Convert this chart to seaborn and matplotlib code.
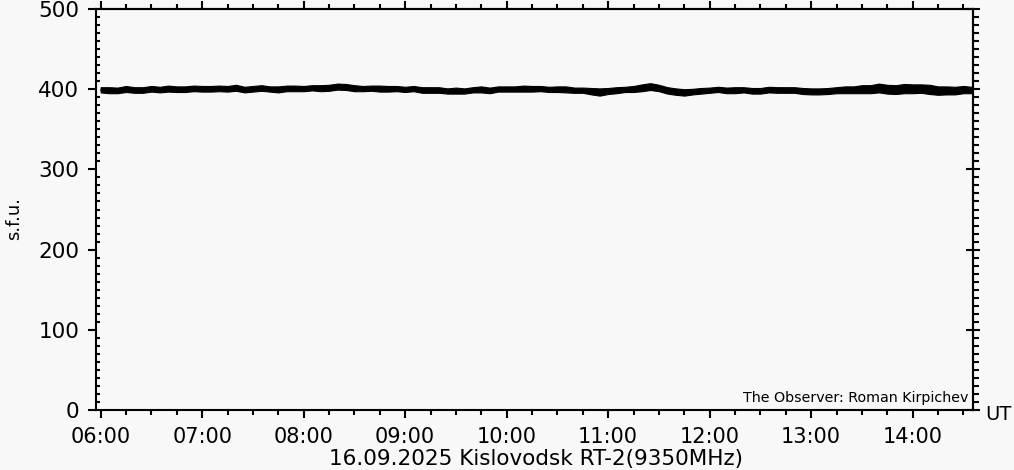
import pandas as pd
import seaborn as sns
import matplotlib.pyplot as plt
import matplotlib.dates as mdates
import matplotlib.ticker as mticker
import numpy as np

# 5-minute samples, 06:00 .. 14:35 UT
times = pd.date_range('2025-09-16 06:00', periods=104, freq='5min')

# centre of the flux trace (s.f.u.)
flux = [399, 398.5, 399, 399.5, 399, 399.5, 400, 399.5, 400, 400.5, 400, 400.5,
        400.5, 401, 400.5, 400.5, 401, 400, 400.5, 401, 400.5, 400, 400.5, 401,
        401, 401.5, 401, 402, 402.5, 402.5, 401.5, 401, 401, 400.5, 401, 400.5,
        400, 400.5, 399.5, 399, 398.5, 398, 398.5, 398, 399, 399.5, 399, 400,
        400.5, 400, 400.5, 401, 400.5, 400, 399.5, 400, 399, 398.5, 397.5, 396.5,
        398, 398.5, 399.5, 400, 401.5, 402.5, 401.5, 399, 397, 396.5, 397.5, 398,
        399, 399.5, 399, 398.5, 399, 398.5, 398, 399, 399.5, 399, 398.5, 398,
        397.5, 397, 398, 398.5, 399, 399.5, 400, 400.5, 401, 400.5, 399.5, 400,
        401, 400.5, 399.5, 399, 398.5, 399, 399.5, 399]

# spread of the noise band above / below the centre (s.f.u.)
noise_up = [3.5, 4, 3, 4.5, 3.5, 3, 4, 3.5, 4.5, 3, 3.5, 4,
            3.5, 3, 4, 3.5, 4.5, 3, 3.5, 4, 3, 3.5, 4, 3.5,
            3, 3.5, 4, 3.5, 4.5, 4, 3.5, 3, 3.5, 4, 3, 3.5,
            3, 3.5, 3, 3.5, 4, 3, 3.5, 3, 3.5, 4, 3, 3.5,
            3, 3.5, 4, 3, 3.5, 3, 4, 3.5, 3, 3.5, 4, 4.5,
            3.5, 4, 3.5, 4, 4.5, 5, 4, 3.5, 4, 3.5, 3, 3.5,
            3, 3.5, 3, 4, 3.5, 3, 3.5, 4, 3, 3.5, 4, 3.5,
            3.5, 4, 3.5, 4, 4.5, 4, 5, 4.5, 6, 5, 5.5, 6.5,
            5, 5.5, 6, 4.5, 5, 4, 4.5, 4]
noise_dn = [3, 3.5, 4, 3, 3.5, 4, 3, 3.5, 3, 4, 3.5, 3,
            3.5, 4, 3, 3.5, 3, 4, 3.5, 3, 3.5, 4, 3, 3.5,
            3.5, 3, 3.5, 4, 3, 3.5, 4, 3.5, 3, 3.5, 4, 3,
            3.5, 3, 4, 3.5, 3, 3.5, 4, 3.5, 3, 3.5, 4, 3,
            3.5, 3, 3.5, 4, 3, 3.5, 3, 4, 3.5, 3, 4, 4.5,
            4, 3.5, 3, 3.5, 4, 3.5, 4, 4.5, 4, 4.5, 4, 3.5,
            3.5, 3, 4, 3.5, 3, 4, 3.5, 3, 4, 3.5, 3, 4,
            4, 3.5, 4, 3.5, 4, 4.5, 5, 5.5, 5, 6, 5.5, 5,
            6, 5, 5.5, 6, 5, 5.5, 4.5, 4]

df = pd.DataFrame({'time': times, 'flux': flux})
upper = np.array(flux) + np.array(noise_up)
lower = np.array(flux) - np.array(noise_dn)

bg = '#f8f8f8'
sns.set_style('ticks', {'axes.facecolor': bg, 'figure.facecolor': bg,
                        'text.color': 'black', 'xtick.color': 'black',
                        'ytick.color': 'black', 'axes.edgecolor': 'black'})
plt.rcParams['font.family'] = ['DejaVu Sans']

fig = plt.figure(figsize=(10.14, 4.70), dpi=100)
ax = fig.add_axes([96 / 1014, 60 / 470, 877 / 1014, 401 / 470])

ax.fill_between(df['time'], lower, upper, color='black', linewidth=0.8, edgecolor='black')
sns.lineplot(data=df, x='time', y='flux', ax=ax, color='black', linewidth=1.0)

ax.set_xlim(pd.Timestamp('2025-09-16 05:57:15'), pd.Timestamp('2025-09-16 14:35:40'))
ax.set_ylim(0, 500)

ax.xaxis.set_major_locator(mdates.HourLocator())
ax.xaxis.set_minor_locator(mdates.MinuteLocator(byminute=[15, 30, 45]))
ax.xaxis.set_major_formatter(mdates.DateFormatter('%H:%M'))
ax.yaxis.set_major_locator(mticker.MultipleLocator(100))
ax.yaxis.set_minor_locator(mticker.MultipleLocator(10))

for s in ax.spines.values():
    s.set_linewidth(1.5)
ax.tick_params(which='major', direction='out', length=6, width=1.5, labelsize=15, pad=6)
ax.tick_params(axis='y', which='major', labelsize=15.5)
ax.tick_params(axis='x', which='minor', direction='out', length=3.5, width=1.5)
ax.tick_params(axis='y', which='minor', direction='in', length=3, width=1.5)

# top and right axes carry ticks only
top = ax.secondary_xaxis('top')
top.xaxis.set_major_locator(mdates.HourLocator())
top.xaxis.set_minor_locator(mdates.MinuteLocator(byminute=[15, 30, 45]))
top.tick_params(which='major', direction='out', length=6, width=1.5, labeltop=False)
top.tick_params(which='minor', direction='out', length=3.5, width=1.5)
top.spines['top'].set_linewidth(1.5)

right = ax.secondary_yaxis('right')
right.yaxis.set_major_locator(mticker.MultipleLocator(100))
right.yaxis.set_minor_locator(mticker.MultipleLocator(10))
right.tick_params(which='major', direction='inout', length=10, width=1.5, labelright=False)
right.tick_params(which='minor', direction='out', length=4, width=1.5)
right.spines['right'].set_linewidth(1.5)

ax.set_xlabel('')
ax.set_ylabel('')
fig.text(536 / 1014, 1 - 459 / 470, '16.09.2025 Kislovodsk RT-2(9350MHz)',
         fontsize=15.5, ha='center', va='center')
fig.text(14 / 1014, 1 - 218 / 470, 's.f.u.', fontsize=13, rotation=90,
         ha='center', va='center')
ax.text(1.014, -0.01, 'UT', transform=ax.transAxes, fontsize=14, ha='left', va='center')
ax.text(0.995, 0.012, 'The Observer: Roman Kirpichev', transform=ax.transAxes,
        fontsize=10.3, ha='right', va='bottom')

plt.savefig('out.png', dpi=100, facecolor=bg)
